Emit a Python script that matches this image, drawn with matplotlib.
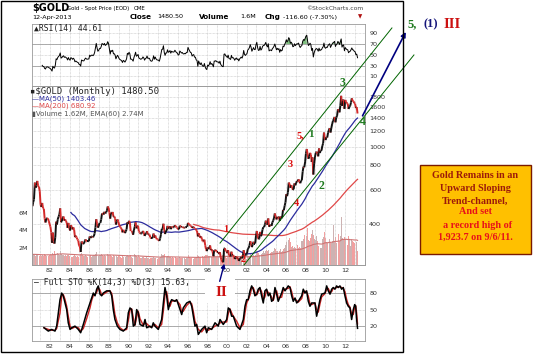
import matplotlib
matplotlib.use("Agg")
import matplotlib.pyplot as plt
import numpy as np
import pandas as pd
from matplotlib.collections import LineCollection
from matplotlib.patches import Rectangle, FancyArrowPatch
from matplotlib.ticker import NullLocator

W, H = 538, 355

# $GOLD monthly closes, Jan 1980 .. Apr 2013 (one row per year)
gold_close = [
    653, 637, 494, 518, 535, 653, 614, 631, 666, 629, 619, 590,
    502, 489, 513, 482, 479, 426, 407, 426, 428, 427, 414, 400,
    387, 362, 320, 361, 325, 317, 342, 411, 397, 423, 436, 448,
    481, 408, 414, 429, 437, 416, 422, 414, 405, 382, 405, 382,
    370, 394, 388, 375, 384, 373, 342, 348, 341, 333, 329, 309,
    306, 287, 325, 321, 316, 317, 327, 333, 326, 325, 325, 327,
    345, 339, 344, 345, 342, 346, 357, 384, 423, 401, 383, 391,
    405, 405, 421, 453, 451, 447, 462, 453, 459, 468, 492, 484,
    458, 426, 457, 450, 461, 436, 437, 427, 397, 412, 422, 410,
    394, 387, 383, 377, 362, 373, 368, 359, 366, 375, 408, 401,
    415, 407, 368, 368, 363, 352, 372, 387, 408, 380, 384, 392,
    366, 362, 356, 357, 360, 368, 362, 347, 355, 357, 367, 353,
    354, 353, 341, 337, 337, 343, 357, 340, 349, 339, 334, 333,
    332, 327, 337, 354, 377, 378, 401, 372, 355, 370, 370, 391,
    378, 381, 389, 376, 388, 385, 384, 385, 394, 389, 384, 383,
    375, 376, 392, 389, 385, 387, 383, 382, 384, 383, 387, 387,
    405, 400, 396, 392, 391, 382, 385, 386, 379, 379, 371, 369,
    345, 358, 348, 340, 345, 334, 326, 325, 332, 311, 296, 290,
    303, 297, 301, 310, 293, 296, 288, 273, 293, 292, 294, 288,
    287, 287, 280, 286, 268, 262, 255, 254, 299, 300, 291, 290,
    283, 293, 277, 275, 272, 288, 276, 277, 273, 264, 269, 272,
    265, 267, 258, 264, 267, 270, 266, 273, 293, 279, 275, 279,
    282, 297, 301, 309, 326, 318, 304, 313, 324, 317, 317, 347,
    368, 347, 334, 336, 364, 346, 354, 375, 385, 386, 398, 416,
    402, 396, 427, 387, 394, 395, 391, 408, 416, 429, 453, 438,
    422, 435, 428, 436, 415, 437, 429, 434, 473, 470, 496, 517,
    569, 556, 582, 653, 643, 614, 633, 624, 599, 604, 647, 632,
    650, 665, 663, 679, 659, 648, 665, 673, 743, 789, 783, 834,
    923, 972, 916, 865, 887, 928, 912, 834, 880, 718, 815, 884,
    928, 942, 924, 891, 979, 927, 955, 955, 1008, 1040, 1181, 1096,
    1081, 1118, 1113, 1180, 1215, 1244, 1181, 1246, 1307, 1357, 1383, 1421,
    1333, 1410, 1439, 1556, 1536, 1500, 1628, 1825, 1620, 1722, 1746, 1564,
    1738, 1697, 1668, 1664, 1561, 1604, 1622, 1687, 1772, 1719, 1712, 1675,
    1663, 1578, 1597, 1480,
]

# monthly volume in millions, same months
gold_volume = [
    1.2, 1.4, 1.6, 1.3, 1.1, 1.2, 1.0, 1.1, 1.3, 1.0, 0.9, 1.0,
    1.1, 1.0, 1.2, 0.9, 1.0, 1.3, 1.1, 1.0, 1.4, 1.2, 1.0, 1.1,
    1.3, 1.2, 1.5, 1.4, 1.2, 1.6, 1.3, 1.9, 1.7, 1.4, 1.3, 1.2,
    1.6, 1.8, 1.3, 1.2, 1.1, 1.0, 1.2, 1.1, 1.0, 1.2, 1.1, 1.0,
    1.1, 1.0, 0.9, 0.9, 1.0, 1.1, 1.2, 1.0, 0.9, 1.0, 0.9, 1.1,
    1.2, 1.3, 1.4, 1.1, 1.0, 0.9, 1.0, 1.1, 1.0, 0.9, 1.0, 1.1,
    1.0, 1.1, 0.9, 1.0, 1.0, 1.2, 1.1, 1.3, 1.5, 1.2, 1.1, 1.0,
    1.2, 1.1, 1.3, 1.5, 1.2, 1.0, 1.1, 1.0, 1.2, 1.4, 1.3, 1.2,
    1.1, 1.2, 1.0, 1.0, 0.9, 1.1, 1.0, 0.9, 1.1, 1.0, 0.9, 1.0,
    1.0, 0.9, 0.9, 0.8, 1.0, 0.9, 0.8, 0.9, 0.9, 1.0, 1.2, 1.0,
    1.2, 1.0, 1.1, 0.9, 0.8, 0.9, 0.9, 1.3, 1.1, 1.0, 0.9, 0.8,
    1.1, 0.9, 0.8, 0.8, 0.9, 0.8, 0.9, 0.8, 0.8, 0.9, 0.8, 0.8,
    0.8, 0.7, 0.8, 0.8, 0.7, 0.8, 0.9, 0.8, 0.8, 0.7, 0.8, 0.7,
    0.8, 0.8, 0.9, 1.1, 1.3, 1.1, 1.2, 1.3, 1.0, 0.9, 0.9, 1.0,
    1.0, 0.9, 0.9, 0.9, 0.8, 0.9, 0.8, 0.8, 0.9, 0.9, 0.8, 0.8,
    0.8, 0.9, 0.9, 0.8, 0.8, 0.8, 0.8, 0.7, 0.8, 0.7, 0.8, 0.8,
    1.0, 1.1, 0.9, 0.8, 0.8, 0.8, 0.8, 0.7, 0.8, 0.8, 0.9, 0.9,
    1.1, 1.0, 0.9, 0.9, 0.8, 0.9, 1.0, 0.9, 1.0, 1.1, 1.1, 1.2,
    1.2, 1.0, 1.0, 1.0, 0.9, 0.9, 0.9, 1.1, 1.2, 1.1, 0.9, 0.9,
    0.9, 0.9, 0.9, 1.0, 1.1, 1.0, 1.2, 1.0, 1.5, 1.4, 1.0, 0.8,
    0.9, 1.1, 1.0, 0.9, 0.9, 1.0, 0.9, 0.8, 0.9, 0.9, 0.8, 0.8,
    0.9, 0.8, 0.9, 0.8, 1.0, 0.9, 0.8, 0.8, 1.1, 0.9, 0.8, 0.7,
    0.9, 1.1, 1.0, 1.0, 1.3, 1.2, 1.1, 1.0, 1.1, 1.0, 1.1, 1.3,
    1.6, 1.5, 1.4, 1.2, 1.4, 1.3, 1.3, 1.4, 1.6, 1.4, 1.5, 1.6,
    1.7, 1.6, 1.7, 1.8, 1.5, 1.4, 1.5, 1.5, 1.6, 1.7, 1.9, 1.8,
    1.6, 1.6, 1.7, 1.5, 1.6, 1.8, 1.5, 1.6, 1.9, 1.8, 1.9, 2.3,
    2.6, 2.3, 2.0, 2.9, 3.1, 2.6, 2.1, 1.9, 2.2, 1.9, 2.1, 2.0,
    2.2, 2.1, 2.3, 2.0, 2.1, 1.9, 2.0, 2.8, 2.7, 3.0, 3.4, 2.3,
    3.4, 3.3, 4.2, 2.9, 2.8, 2.7, 3.1, 3.6, 4.0, 3.4, 3.0, 2.6,
    2.9, 3.3, 2.8, 2.2, 2.4, 2.3, 1.9, 2.0, 3.0, 3.2, 3.9, 3.8,
    3.1, 2.6, 2.5, 2.6, 3.6, 3.0, 2.6, 2.5, 2.8, 3.5, 4.6, 2.6,
    3.2, 2.5, 2.7, 3.4, 3.5, 2.8, 3.3, 5.5, 4.6, 3.1, 3.0, 3.2,
    3.0, 3.1, 2.7, 2.3, 3.3, 2.9, 2.2, 2.4, 3.0, 2.8, 2.6, 2.5,
    2.8, 3.1, 2.6, 1.6,
]

# Full STO %K(14,3)
sto_year = [
    1981.39, 1981.83, 1982.17, 1982.51, 1982.68, 1983.02, 1983.19, 1983.35,
    1983.53, 1983.70, 1983.86, 1984.04, 1984.21, 1984.54, 1984.88, 1985.12,
    1985.39, 1985.73, 1986.07, 1986.24, 1986.41, 1986.58, 1986.75, 1986.91,
    1987.09, 1987.26, 1987.42, 1987.77, 1988.10, 1988.28, 1988.44, 1988.61,
    1988.85, 1989.12, 1989.46, 1989.80, 1989.97, 1990.14, 1990.31, 1990.48,
    1990.65, 1990.82, 1990.98, 1991.16, 1991.49, 1991.67, 1991.84, 1992.17,
    1992.35, 1992.51, 1992.68, 1993.02, 1993.36, 1993.53, 1993.70, 1993.87,
    1994.04, 1994.21, 1994.38, 1994.72, 1994.89, 1995.23, 1995.40, 1995.56,
    1995.91, 1996.24, 1996.42, 1996.58, 1996.75, 1996.92, 1997.09, 1997.43,
    1997.77, 1997.94, 1998.11, 1998.45, 1998.79, 1999.12, 1999.30, 1999.63,
    1999.98, 2000.14, 2000.31, 2000.48, 2000.65, 2000.99, 2001.33, 2001.67,
    2001.84, 2002.01, 2002.17, 2002.35, 2002.52, 2002.68, 2002.85, 2003.03,
    2003.19, 2003.36, 2003.53, 2003.70, 2003.87, 2004.04, 2004.21, 2004.38,
    2004.55, 2004.72, 2004.89, 2005.06, 2005.22, 2005.57, 2005.73, 2005.91,
    2006.24, 2006.42, 2006.59, 2006.75, 2006.93, 2007.10, 2007.26, 2007.61,
    2007.77, 2007.94, 2008.11, 2008.28, 2008.45, 2008.62, 2008.96, 2009.13,
    2009.30, 2009.47, 2009.64, 2009.98, 2010.15, 2010.31, 2010.49, 2010.66,
    2010.82, 2010.99, 2011.16, 2011.33, 2011.50, 2011.67, 2011.84, 2012.01,
    2012.18, 2012.35, 2012.52, 2012.69, 2012.86, 2013.00, 2013.10, 2013.20,
    2013.29,
]
sto_k = [
    17, 11, 14, 11, 20, 68, 80, 75, 62, 50, 26, 14, 17, 20, 14, 8,
    23, 44, 62, 71, 80, 75, 87, 93, 78, 75, 80, 84, 84, 75, 50, 32,
    20, 14, 11, 17, 44, 53, 50, 20, 23, 50, 44, 23, 20, 32, 17, 20,
    17, 26, 20, 14, 32, 62, 90, 75, 50, 62, 68, 65, 68, 50, 41, 53,
    62, 65, 56, 38, 20, 23, 5, 14, 20, 8, 17, 14, 26, 20, 32, 23,
    32, 53, 50, 38, 38, 20, 14, 32, 56, 68, 68, 84, 93, 87, 75, 78,
    87, 90, 75, 62, 84, 87, 75, 80, 65, 68, 90, 78, 65, 80, 90, 84,
    93, 90, 75, 65, 71, 62, 65, 75, 87, 80, 84, 65, 56, 62, 62, 38,
    53, 68, 78, 80, 93, 84, 78, 87, 90, 87, 93, 90, 93, 87, 90, 75,
    62, 56, 53, 32, 50, 59, 56, 32, 16,
]

first_year = 1980
year_ticks = list(range(1982, 2013, 2))
price_ticks = [400, 600, 800, 1000, 1200, 1400, 1600, 1800]
vol_ticks = [2, 4, 6]
rsi_ticks = [10, 30, 50, 70, 90]
sto_ticks = [20, 50, 80]

box_lines = ["Gold Remains in an", "Upward Sloping", "Trend-channel,",
             "And set", "  a record high of", "1,923.7 on 9/6/11."]


def fx(x):
    return x / W


def fy(y):
    return 1 - y / H


close = pd.Series(gold_close, dtype=float)
vol = pd.Series(gold_volume, dtype=float)
t = first_year + (np.arange(len(close)) + 0.5) / 12.0

ma50 = close.rolling(50).mean()
ma200 = close.rolling(200).mean()
vol_ema = vol.ewm(span=60, adjust=False).mean()

delta = close.diff()
gain = delta.clip(lower=0).ewm(alpha=1 / 14, adjust=False).mean()
loss = (-delta.clip(upper=0)).ewm(alpha=1 / 14, adjust=False).mean()
rsi = 100 - 100 / (1 + gain / loss)
rsi[:14] = np.nan

sto_d = pd.Series(sto_k, dtype=float).rolling(2, min_periods=1).mean()

up = np.r_[True, np.diff(close.values) >= 0]

x0, x1 = 1980.17, 2014.05
tick_kw = dict(length=0, labelsize=4.6, colors='#333333')

fig = plt.figure(figsize=(W / 100, H / 100), dpi=100)
fig.patch.set_facecolor('white')


def style(ax):
    ax.set_xlim(x0, x1)
    for s in ax.spines.values():
        s.set_color('#9a9a9a')
        s.set_linewidth(0.6)
    ax.set_xticks(year_ticks)
    ax.set_xticks(range(1981, 2014), minor=True)
    ax.set_xticklabels(['%02d' % (y % 100) for y in year_ticks])
    ax.grid(axis='x', which='both', color='#c4c4c4', lw=0.5, ls=(0, (1, 1)))
    ax.tick_params(which='both', **tick_kw)
    ax.tick_params(axis='x', pad=2)


# RSI panel
ax_rsi = fig.add_axes([fx(32), fy(86), 333 / W, 62 / H])
style(ax_rsi)
ax_rsi.set_ylim(-8, 107.5)
ax_rsi.yaxis.tick_right()
ax_rsi.set_yticks(rsi_ticks)
ax_rsi.tick_params(axis='y', pad=3)
ax_rsi.tick_params(axis='x', labelbottom=False)
ax_rsi.grid(axis='y', color='#c4c4c4', lw=0.5, ls=(0, (1, 1)))
for lev in (30, 70):
    ax_rsi.axhline(lev, color='#a0a0a0', lw=0.6)
r = rsi.values
ax_rsi.fill_between(t, r, 70, where=r > 70, color='#7fbf7f', lw=0)
ax_rsi.plot(t, r, color='black', lw=0.7)

# main panel: volume underneath, price on top
ax_vol = fig.add_axes([fx(32), fy(265), 333 / W, 179 / H])
style(ax_vol)
ax_vol.set_ylim(0, 20.5)
ax_vol.set_yticks(vol_ticks)
ax_vol.set_yticklabels(['%dM' % v for v in vol_ticks])
ax_vol.tick_params(axis='y', pad=3)
ax_vol.bar(t, vol, width=1 / 12 * 0.9,
           color=np.where(up, '#cdb2b2', '#f2a0a0'), lw=0)
ax_vol.plot(t, vol_ema, color='#cf7474', lw=0.8)

ax_px = ax_vol.twinx()
ax_px.set_yscale('log')
ax_px.set_ylim(246, 2050)
ax_px.set_xlim(x0, x1)
ax_px.yaxis.set_minor_locator(NullLocator())
ax_px.set_yticks(price_ticks)
ax_px.set_yticklabels([str(p) for p in price_ticks])
ax_px.tick_params(which='both', **tick_kw)
ax_px.tick_params(axis='y', pad=3)
ax_px.grid(axis='y', color='#c4c4c4', lw=0.5, ls=(0, (1, 1)))
for s in ax_px.spines.values():
    s.set_color('#9a9a9a')
    s.set_linewidth(0.6)

ax_px.plot(t, ma200, color='#e04848', lw=0.9)
ax_px.plot(t, ma50, color='#2c2c9e', lw=0.9)
pts = np.column_stack([t, close.values])
segs = np.stack([pts[:-1], pts[1:]], axis=1)
seg_cols = np.where(up[1:], '#111111', '#d42a2a')
ax_px.add_collection(LineCollection(segs, colors=seg_cols, lw=1.4))

# trend channel and projection (in year / price units)
ax_px.plot([1999.30, 2016.79], [319, 4077], color='#006400', lw=0.7,
           clip_on=False, zorder=5)
ax_px.plot([2001.74, 2019.03], [246, 2961], color='#006400', lw=0.7,
           clip_on=False, zorder=5)
ax_px.annotate('', xy=(2018.2, 3888), xytext=(2013.8, 1440),
               arrowprops=dict(arrowstyle='-|>', color='#000080', lw=1.2,
                               mutation_scale=7, shrinkA=0, shrinkB=0),
               annotation_clip=False, zorder=6)

# STO panel
ax_sto = fig.add_axes([fx(32), fy(341), 333 / W, 62 / H])
style(ax_sto)
ax_sto.set_ylim(-7, 105.5)
ax_sto.yaxis.tick_right()
ax_sto.set_yticks(sto_ticks)
ax_sto.tick_params(axis='y', pad=3)
ax_sto.grid(axis='y', color='#c4c4c4', lw=0.5, ls=(0, (1, 1)))
for lev in (20, 80):
    ax_sto.axhline(lev, color='#a0a0a0', lw=0.6)
ax_sto.plot(sto_year, sto_d, color='#cc2222', lw=1.0)
ax_sto.plot(sto_year, sto_k, color='black', lw=1.1)

# header
fig.text(fx(32), fy(8), '$GOLD', fontsize=7, fontweight='bold', va='center')
fig.text(fx(67), fy(8.5), 'Gold - Spot Price (EOD)', fontsize=3.9, va='center')
fig.text(fx(134), fy(8.5), 'CME', fontsize=4.0, va='center')
fig.text(fx(363), fy(8.5), '\u00a9StockCharts.com', fontsize=4.3, va='center',
         ha='right', color='#444444')
fig.text(fx(32), fy(17), '12-Apr-2013', fontsize=4.6, va='center')
for x, s, b in [(130, 'Close', True), (157, '1480.50', False),
                (199, 'Volume', True), (240, '1.6M', False),
                (265, 'Chg', True), (283, '-116.60 (-7.30%)', False)]:
    fig.text(fx(x), fy(17), s, fontsize=5.2 if b else 4.6, va='center',
             fontweight='bold' if b else 'normal')
fig.text(fx(358), fy(17), '\u25bc', fontsize=4, va='center', color='#b01010')

# panel legends
mono = 'DejaVu Sans Mono'
fig.text(fx(34), fy(29), '\u25b2RSI(14) 44.61', fontsize=5.8, family=mono,
         va='center', color='#222222')
fig.text(fx(30), fy(91), '\u25aa$GOLD (Monthly) 1480.50', fontsize=6.4,
         family=mono, va='center', color='#222222')
fig.text(fx(32), fy(98.5), '\u2014MA(50) 1403.46', fontsize=5.0, va='center',
         color='#2c2c9e')
fig.text(fx(32), fy(106), '\u2014MA(200) 680.92', fontsize=5.0, va='center',
         color='#e04848')
fig.text(fx(32), fy(113.5), '\u25aeVolume 1.62M, EMA(60) 2.74M', fontsize=5.0,
         va='center', color='#555555')
fig.text(fx(34), fy(283), '\u2014 Full STO %K(14,3) %D(3) 15.63,', fontsize=5.8,
         family=mono, va='center', color='#222222')

# wave labels
serif = 'Liberation Serif'
green, red, navy = '#1f7a1f', '#dd1111', '#14147a'
for x, y, s, c, fs in [(343, 83, '3', green, 8.5), (300, 136, '5,', red, 7.5),
                       (311, 135, '1', green, 8), (290, 164, '3', red, 7.5),
                       (296, 204, '4', red, 7.5), (321, 186, '2', green, 8.5),
                       (363, 122, '4', green, 8.5), (226, 229, '1', red, 7.5),
                       (243, 260, '2', red, 7.5)]:
    fig.text(fx(x), fy(y), s, color=c, fontsize=fs, family=serif,
             fontweight='bold', ha='center', va='center', zorder=6)

fig.text(fx(408), fy(24), '5,', color=green, fontsize=9, family=serif,
         fontweight='bold', va='center')
fig.text(fx(423), fy(24), '(1)', color=navy, fontsize=9, family=serif,
         fontweight='bold', va='center')
fig.text(fx(443), fy(24), 'III', color='#cc1111', fontsize=10.5, family=serif,
         fontweight='bold', va='center')

# "II" with white patch over the STO legend
fig.add_artist(Rectangle((fx(205), fy(303)), 30 / W, 25 / H, fc='white',
                         ec='none', transform=fig.transFigure, zorder=5))
fig.text(fx(221), fy(292), 'II', color='#cc1111', fontsize=11, family=serif,
         fontweight='bold', ha='center', va='center', zorder=6)
fig.add_artist(FancyArrowPatch((fx(219), fy(284)), (fx(225), fy(261)),
                               transform=fig.transFigure, arrowstyle='-|>',
                               mutation_scale=6, color='#000080', lw=1.0,
                               zorder=7))

# text box
fig.add_artist(Rectangle((fx(420), fy(254)), 111 / W, 89 / H, fc='#ffc000',
                         ec='#7a1a00', lw=1.0, transform=fig.transFigure,
                         zorder=5))
for s, y, c in zip(box_lines, [175, 189, 201, 212, 226, 237],
                   ['#9c1a0a'] * 3 + ['#e8101a'] * 3):
    fig.text(fx(475.5), fy(y), s, color=c, fontsize=7.3, family=serif,
             fontweight='bold', ha='center', va='center', zorder=6)

# outer frame
fig.add_artist(Rectangle((fx(1), fy(352)), 402 / W, 351.5 / H, fill=False,
                         ec='black', lw=1.0, transform=fig.transFigure,
                         zorder=8))

fig.savefig('out.png', dpi=100)
